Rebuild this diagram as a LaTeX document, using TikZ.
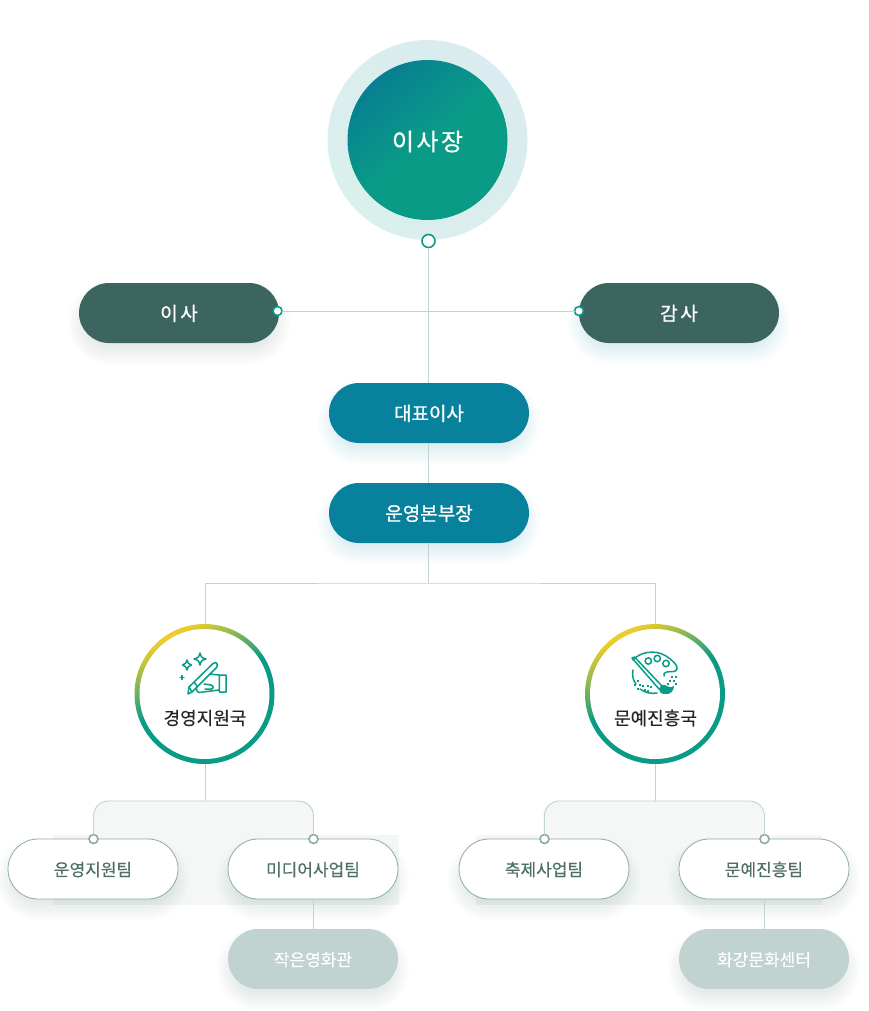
\documentclass[tikz,border=0pt]{standalone}
\usepackage{fontspec}
\usepackage{tikz}
\usetikzlibrary{shapes.misc}
\setmainfont{Noto Sans CJK KR}
\newfontfamily\krmedium[FakeBold=0.7]{Noto Sans CJK KR}
\newfontfamily\krthin[FakeBold=0.25]{Noto Sans CJK KR}
\newfontfamily\krwide[FakeBold=0.7,LetterSpace=14]{Noto Sans CJK KR}
\newfontfamily\krchair[FakeBold=0.7,LetterSpace=10]{Noto Sans CJK KR}

\definecolor{tealgreen}{HTML}{0A9B87}
\definecolor{tealblue}{HTML}{087F92}
\definecolor{pillblue}{HTML}{08829C}
\definecolor{pilldark}{HTML}{3D655F}
\definecolor{pilllight}{HTML}{C0D3D0}
\definecolor{linegray}{HTML}{C0D3D0}
\definecolor{dotgray}{HTML}{8FABA6}
\definecolor{panelgray}{HTML}{F4F7F6}
\definecolor{teamtext}{HTML}{4F6F69}
\definecolor{ringyellow}{HTML}{EBCD2C}

\pgfdeclareverticalshading{chairshade}{100bp}{color(0bp)=(tealgreen); color(50bp)=(tealgreen); color(75bp)=(tealblue); color(100bp)=(tealblue)}
\pgfdeclareverticalshading{ringshade}{100bp}{color(0bp)=(tealgreen); color(52bp)=(tealgreen); color(74bp)=(ringyellow); color(100bp)=(ringyellow)}

\tikzset{
  pill/.style={rounded rectangle, minimum width=200pt, minimum height=60pt, inner sep=0pt, outer sep=0pt, text height=15pt, text depth=0pt, font=\fontsize{19pt}{20pt}\krmedium, text=white},
  darkpill/.style={pill, fill=pilldark, font=\fontsize{19pt}{20pt}\krwide},
  bluepill/.style={pill, fill=pillblue},
  teampill/.style={pill, minimum width=170pt, fill=white, draw=dotgray, line width=0.8pt, text=teamtext, text height=14pt, font=\fontsize{17pt}{20pt}\krthin},
  lightpill/.style={pill, minimum width=170pt, fill=pilllight, text height=14pt, font=\fontsize{17pt}{20pt}\krthin},
  link/.style={draw=linegray, line width=0.9pt},
  bigdot/.style={circle, fill=white, draw=tealgreen, line width=1.6pt, minimum size=#1, inner sep=0pt, outer sep=0pt},
  teamdot/.style={circle, fill=white, draw=dotgray, line width=1.6pt, minimum size=9pt, inner sep=0pt, outer sep=0pt},
  ring/.style={circle, minimum size=140pt, inner sep=0pt, outer sep=0pt, shading=ringshade, shading angle=28},
  ringhole/.style={circle, minimum size=130pt, inner sep=0pt, fill=white},
  icon/.style={draw=tealgreen, line width=1.5pt, line join=round, line cap=round},
  bureautext/.style={font=\fontsize{18pt}{20pt}\krthin, text=black!85}
}

\begin{document}
\begin{tikzpicture}[x=1pt,y=-1pt]
\useasboundingbox (0,0) rectangle (868,1011);

% panels behind the teams
\fill[panelgray] (53,835) rectangle (399,905);
\fill[panelgray] (476,835) rectangle (822,905);
\fill[panelgray, rounded corners=15pt] (93,801) rectangle (314,850);
\fill[panelgray, rounded corners=15pt] (543,801) rectangle (764,850);

% soft shadows
\foreach \cx/\cy/\wd/\col in {179/313/100/pilldark,679/313/100/pillblue,429/413/100/pillblue,429/513/100/pillblue,
                              93/869/85/pilldark,313/869/85/pilldark,544/869/85/pilldark,764/869/85/pilldark,
                              313/959/85/pilldark,764/959/85/pilldark}
  \foreach \s in {-10,-7,...,11}
    \fill[\col, opacity=0.02, rounded corners=(30+\s)*1pt] (\cx-\wd-\s,\cy+10-30-\s) rectangle (\cx+\wd+\s,\cy+10+30+\s);

% top circle
\node[circle, minimum size=200pt, inner sep=0pt, left color=tealblue!15, right color=tealgreen!15, shading angle=-45] (halo) at (427.5,140) {};
\node[circle, minimum size=160pt, inner sep=0pt, shading=chairshade, shading angle=40, text=white, text height=21pt, text depth=0pt, font=\fontsize{24pt}{26pt}\krchair] (chair) at (427.5,140) {이사장};

% board
\node[darkpill] (director) at (179,313) {이사};
\node[darkpill] (auditor) at (679,313) {감사};
\node[bluepill] (ceo) at (429,413) {대표이사};
\node[bluepill] (head) at (429,513) {운영본부장};

% bureaus
\node[ring] (bureaua) at (204.5,694) {};
\node[ringhole] (holea) at (204.5,694) {};
\node[ring] (bureaub) at (655,694) {};
\node[ringhole] (holeb) at (655,694) {};
\node[bureautext] (labela) at (205,718) {경영지원국};
\node[bureautext] (labelb) at (655.5,718) {문예진흥국};

% teams
\node[teampill] (teama) at (93,869) {운영지원팀};
\node[teampill] (teamb) at (313,869) {미디어사업팀};
\node[teampill] (teamc) at (544,869) {축제사업팀};
\node[teampill] (teamd) at (764,869) {문예진흥팀};
\node[lightpill] (hall) at (313,959) {작은영화관};
\node[lightpill] (center) at (764,959) {화강문화센터};

% dots
\node[bigdot=13pt] (dottop) at (428.5,241) {};
\node[bigdot=9pt] (dotleft) at (277.5,311) {};
\node[bigdot=9pt] (dotright) at (579,311) {};
\node[teamdot] (dota) at (93.5,839) {};
\node[teamdot] (dotb) at (313.5,839) {};
\node[teamdot] (dotc) at (544.5,839) {};
\node[teamdot] (dotd) at (764.5,839) {};

\coordinate (split) at (428.5,583);
\coordinate (brancha) at (205,801);
\coordinate (branchb) at (655,801);

% connectors
\draw[link] (dottop.south) -- (dottop.south |- ceo.north);
\draw[link] (dotleft.east) -- (dotright.west);
\draw[link] (dottop.south |- ceo.south) -- (dottop.south |- head.north);
\draw[link] (dottop.south |- head.south) -- (split);
\draw[link] (brancha |- bureaua.north) |- (split) -| (bureaub.north);
\draw[link] (brancha |- bureaua.south) -- (brancha);
\draw[link] (bureaub.south) -- (branchb);
\draw[link, rounded corners=15pt] (dota.north) |- (brancha) -| (dotb.north);
\draw[link, rounded corners=15pt] (dotc.north) |- (branchb) -| (dotd.north);
\draw[link] (dotb.south |- teamb.south) -- (dotb.south |- hall.north);
\draw[link] (dotd.south |- teamd.south) -- (dotd.south |- center.north);

% pen icon
\draw[icon] (200,653) .. controls (201,657) and (202,658) .. (206,659) .. controls (202,660) and (201,661) .. (200,665) .. controls (199,661) and (198,660) .. (194,659) .. controls (198,658) and (199,657) .. (200,653) -- cycle;
\draw[icon] (187,660) .. controls (187.5,663) and (188.5,664) .. (191.5,665) .. controls (188.5,666) and (187.5,667) .. (187,670) .. controls (186.5,667) and (185.5,666) .. (182.5,665) .. controls (185.5,664) and (186.5,663) .. (187,660) -- cycle;
\draw[icon] (180,677.5) -- (184,677.5) (182,675.5) -- (182,679.5);
\draw[icon] (188,694) -- (189,687) -- (213,663.5) .. controls (215,662) and (217,662) .. (217,664) .. controls (218,666) and (217,667) .. (216,668) -- (192,692) -- cycle;
\draw[icon] (189,687) -- (192,692) (194,682) -- (197,686);
\draw[icon] (210,674) -- (219,675) (219.3,675) rectangle (226,692) (219,690) -- (199,692.5) (199,692.5) .. controls (196,691) and (196,690) .. (197,689);
\draw[icon] (204,684) -- (211,685) .. controls (214,686) and (214,689) .. (211,689) -- (205,689);

% palette icon
\draw[icon] (633,660) .. controls (640,652) and (655,649) .. (666,656) .. controls (672,660) and (678,665) .. (677,669) .. controls (676,673) and (670,671) .. (667,672) .. controls (664,673) and (663,674) .. (664,676);
\draw[icon] (633,670) .. controls (632,676) and (633,680) .. (636,684) (640,689) .. controls (645,693) and (652,694) .. (657,693);
\draw[icon] (648.3,661) circle (3.2pt) (657.3,658.5) circle (3.2pt) (666,663.5) circle (3.2pt);
\draw[icon] (632,658) -- (634.5,657) -- (662,686) (632,658) -- (659,689);
\fill[tealgreen] (659,689) .. controls (661,684) and (664,684) .. (667,686) .. controls (670,688) and (673,687) .. (674,686) .. controls (674,691) and (670,695) .. (665,694) .. controls (661,694) and (659,692) .. (659,689) -- cycle;
\foreach \dx/\dy in {638/681,635/685,640/685,643/686,648/686,638/689,645/690,651/687,648/691,672/677,676/677,670/681,674/681,676/684,668/684}
  \fill[tealgreen] (\dx-0.9,\dy-0.9) rectangle (\dx+0.9,\dy+0.9);
\end{tikzpicture}
\end{document}
